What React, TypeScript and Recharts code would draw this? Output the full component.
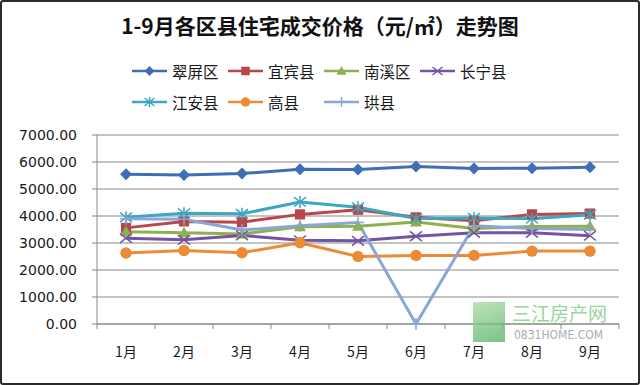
import { LineChart, Line, XAxis, YAxis, CartesianGrid, Legend } from "recharts";

const months = ["1月", "2月", "3月", "4月", "5月", "6月", "7月", "8月", "9月"];
const yTicks = [0, 1000, 2000, 3000, 4000, 5000, 6000, 7000];

const cuiping = [5550, 5520, 5570, 5730, 5720, 5830, 5760, 5770, 5810];
const yibin = [3560, 3800, 3770, 4060, 4230, 3950, 3820, 4060, 4090];
const nanxi = [3420, 3380, 3330, 3600, 3620, 3780, 3540, 3610, 3620];
const changning = [3180, 3120, 3280, 3100, 3080, 3250, 3380, 3380, 3270];
const jiangan = [3950, 4100, 4080, 4520, 4320, 3910, 3930, 3900, 4050];
const gaoxian = [2630, 2720, 2640, 3010, 2500, 2540, 2540, 2700, 2700];
const gongxian = [3900, 3880, 3480, 3640, 3760, 0, 3640, 3540, 3500];

const series = [
  { name: "翠屏区", values: cuiping, color: "#3F6EB4", shape: "diamond" },
  { name: "宜宾县", values: yibin, color: "#B9474A", shape: "square" },
  { name: "南溪区", values: nanxi, color: "#8DB14C", shape: "triangle" },
  { name: "长宁县", values: changning, color: "#7453A0", shape: "cross" },
  { name: "江安县", values: jiangan, color: "#3DA6C1", shape: "star" },
  { name: "高县", values: gaoxian, color: "#EC8A35", shape: "circle" },
  { name: "珙县", values: gongxian, color: "#8AA6D4", shape: "plus" },
];

const rows = months.map((m, i) => {
  const row: Record<string, string | number> = { month: m };
  series.forEach((s) => (row[s.name] = s.values[i]));
  return row;
});

const CJK = '"Noto Sans CJK SC", "Noto Sans", sans-serif';
const AXIS = "#878787";
const BAND = (640 - 97 - 21) / months.length;

function Marker({ shape, cx, cy, color, s }: { shape: string; cx: number; cy: number; color: string; s: number }) {
  if (cx == null || cy == null) return null;
  switch (shape) {
    case "diamond":
      return <polygon points={`${cx},${cy - s} ${cx + s},${cy} ${cx},${cy + s} ${cx - s},${cy}`} fill={color} />;
    case "square":
      return <rect x={cx - s * 0.85} y={cy - s * 0.85} width={s * 1.7} height={s * 1.7} fill={color} />;
    case "triangle":
      return <polygon points={`${cx},${cy - s} ${cx + s},${cy + s * 0.75} ${cx - s},${cy + s * 0.75}`} fill={color} />;
    case "circle":
      return <circle cx={cx} cy={cy} r={s * 0.95} fill={color} />;
    case "cross":
      return (
        <g stroke={color} strokeWidth={1.5}>
          <line x1={cx - s} y1={cy - s * 0.8} x2={cx + s} y2={cy + s * 0.8} />
          <line x1={cx - s} y1={cy + s * 0.8} x2={cx + s} y2={cy - s * 0.8} />
        </g>
      );
    case "star":
      return (
        <g stroke={color} strokeWidth={1.5}>
          <line x1={cx - s} y1={cy - s * 0.8} x2={cx + s} y2={cy + s * 0.8} />
          <line x1={cx - s} y1={cy + s * 0.8} x2={cx + s} y2={cy - s * 0.8} />
          <line x1={cx} y1={cy - s} x2={cx} y2={cy + s} />
        </g>
      );
    case "plus":
      return (
        <g stroke={color} strokeWidth={1.5}>
          <line x1={cx} y1={cy - s} x2={cx} y2={cy + s} />
          <line x1={cx - s} y1={cy} x2={cx + s} y2={cy} />
        </g>
      );
    default:
      return null;
  }
}

// Excel style: tick marks sit between categories, labels in the middle
const MonthTick = ({ x, y, payload, index }: any) => {
  const half = payload?.offset || BAND / 2;
  return (
    <g>
      <line x1={x - half} y1={y} x2={x - half} y2={y + 5} stroke={AXIS} />
      {index === months.length - 1 && <line x1={x + half} y1={y} x2={x + half} y2={y + 5} stroke={AXIS} />}
      <text x={x} y={y + 33} textAnchor="middle" fontSize={14} fill="#1a1a1a" fontFamily={CJK}>
        {payload.value}
      </text>
    </g>
  );
};

const LegendBox = () => (
  <div style={{ height: 85, width: 520, paddingLeft: 132, paddingTop: 5, boxSizing: "border-box", display: "flex", flexWrap: "wrap", alignContent: "flex-start" }}>
    {series.map((s) => (
      <div key={s.name} style={{ width: 96, height: 31, display: "flex", alignItems: "center" }}>
        <svg width={35} height={14}>
          <line x1={0} y1={7} x2={35} y2={7} stroke={s.color} strokeWidth={2.5} />
          <Marker shape={s.shape} cx={17.5} cy={7} color={s.color} s={5} />
        </svg>
        <span style={{ marginLeft: 5, fontSize: 15.5, color: "#1a1a1a", fontFamily: CJK, whiteSpace: "nowrap" }}>{s.name}</span>
      </div>
    ))}
  </div>
);

export default function App() {
  return (
    <div style={{ position: "relative", width: 640, height: 385, background: "#fff", overflow: "hidden" }}>
      <style>{"body{margin:0}"}</style>
      <div
        style={{ position: "absolute", left: 0, top: 0, width: 640, height: 385, boxSizing: "border-box", border: "2px solid #2a2a2a", borderRadius: 3, pointerEvents: "none", zIndex: 3 }}
      />
      <div style={{ position: "absolute", top: 10, width: 640, textAlign: "center", fontSize: 21, fontWeight: 700, fontFamily: CJK, color: "#111", lineHeight: "30px" }}>
        1-9月各区县住宅成交价格（元/㎡）走势图
      </div>
      <div style={{ position: "absolute", left: 0, top: 0 }}>
        <LineChart width={640} height={385} data={rows} margin={{ top: 50, right: 21, left: 0, bottom: 21 }}>
          <CartesianGrid horizontal vertical={false} stroke={AXIS} strokeWidth={1} />
          <XAxis
            dataKey="month"
            tick={<MonthTick />}
            tickLine={false}
            tickSize={0}
            tickMargin={0}
            axisLine={{ stroke: AXIS }}
            height={40}
            interval={0}
            padding={{ left: BAND / 2, right: BAND / 2 }}
          />
          <YAxis
            domain={[0, 7000]}
            ticks={yTicks}
            width={97}
            tickSize={5}
            tickMargin={15}
            tickLine={{ stroke: AXIS }}
            axisLine={{ stroke: AXIS }}
            tickFormatter={(v: number) => v.toFixed(2)}
            tick={{ fill: "#1a1a1a", fontSize: 14, fontFamily: '"DejaVu Sans", sans-serif' }}
          />
          <Legend verticalAlign="top" content={<LegendBox />} />
          {series.map((s) => (
            <Line
              key={s.name}
              dataKey={s.name}
              name={s.name}
              type="linear"
              stroke={s.color}
              strokeWidth={3}
              isAnimationActive={false}
              dot={(p: any) => <Marker key={`${s.name}-${p.index}`} shape={s.shape} cx={p.cx} cy={p.cy} color={s.color} s={6} />}
              activeDot={false}
            />
          ))}
        </LineChart>
      </div>
      <div style={{ position: "absolute", left: 473, top: 302, width: 130, height: 42, pointerEvents: "none", opacity: 0.75, zIndex: 2 }}>
        <div style={{ position: "absolute", left: 0, top: 0, width: 32, height: 40, background: "linear-gradient(160deg, #a9d9a4, #4fae5c)" }} />
        <div style={{ position: "absolute", left: 39, top: 0, fontSize: 19, lineHeight: "22px", color: "#7cc77c", fontFamily: CJK, whiteSpace: "nowrap" }}>三江房产网</div>
        <div style={{ position: "absolute", left: 41, top: 26, fontSize: 12, lineHeight: "14px", color: "#8f8f8f", fontFamily: '"DejaVu Sans Condensed", "DejaVu Sans", sans-serif', whiteSpace: "nowrap" }}>0831HOME.COM</div>
      </div>
    </div>
  );
}
